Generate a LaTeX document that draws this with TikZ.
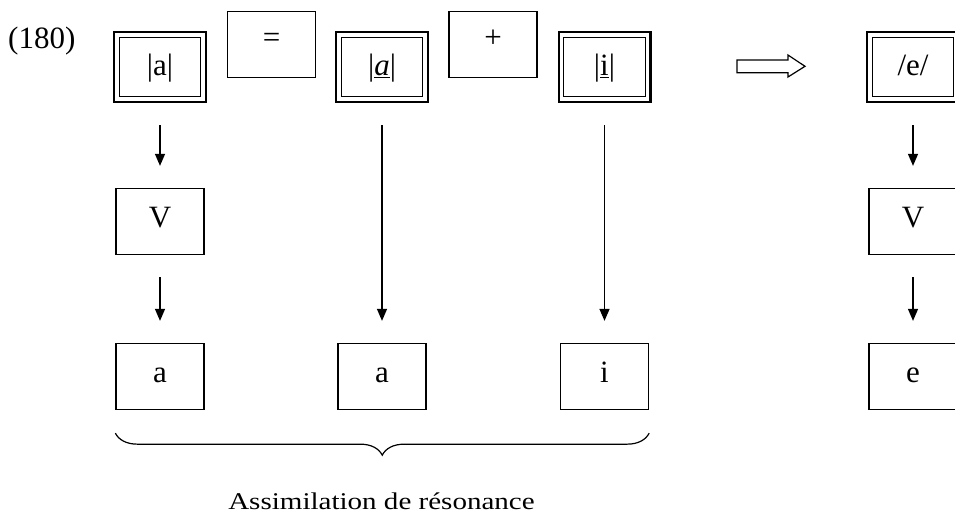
\documentclass[tikz,border=0pt]{standalone}
\usepackage{fontspec}
\setmainfont{Liberation Serif}
\usetikzlibrary{arrows.meta,decorations.pathreplacing,calc}
\newcommand{\myuline}[1]{\setbox0\hbox{#1}\rlap{\rule[-2.8pt]{\wd0}{1.1pt}}\box0}
\begin{document}
\begin{tikzpicture}[x=1pt,y=1pt, font=\fontsize{31}{36}\selectfont,
  dbox/.style={draw, line width=2.4pt, minimum width=91.6pt, minimum height=69.6pt, inner sep=0pt,
    text height=22pt, text depth=6pt,
    path picture={\draw[line width=1.2pt] ([shift={(5pt,-5pt)}]path picture bounding box.north west) rectangle ([shift={(-5pt,5pt)}]path picture bounding box.south east);}},
  sbox/.style={draw, line width=1.3pt, minimum width=88pt, minimum height=66pt, inner sep=0pt},
  opbox/.style={sbox, text height=10pt, text depth=5pt},
  vbox/.style={sbox, text height=20pt, text depth=9pt},
  lbox/.style={sbox, text height=20pt, text depth=8pt},
  arr/.style={line width=1.3pt, -{Triangle[length=12pt,width=10pt]}, shorten <=22pt, shorten >=22pt}]
\useasboundingbox (0,0) rectangle (955,-515);
\clip (0,0) rectangle (955,-515);

\node[anchor=base west, inner sep=0pt] (num) at (8,-48) {(180)};

\node[dbox] (A1) at (160,-67) {|a|};
\node[opbox] (eq) at (271.5,-44.5) {=};
\node[dbox] (A2) at (382,-67) {|\myuline{\textit{a}}|};
\node[opbox] (plus) at (493,-44.5) {+};
\node[dbox] (A3) at (604.5,-67) {|\myuline{i}|};
\node[dbox] (E1) at (913,-67) {/e/};

\node[vbox] (V1) at (160,-221.5) {V};
\node[vbox] (V2) at (913,-221.5) {V};

\node[lbox] (a1) at (160,-376.5) {a};
\node[lbox] (a2) at (382,-376.5) {a};
\node[lbox] (i1) at (604.5,-376.5) {i};
\node[lbox] (e1) at (913,-376.5) {e};

\draw[arr] (A1) -- (V1);
\draw[arr] (V1) -- (a1);
\draw[arr] (A2) -- (a2);
\draw[arr] (A3) -- (i1);
\draw[arr] (E1) -- (V2);
\draw[arr] (V2) -- (e1);

\draw[line width=1.2pt, line join=miter] (737,-60) -- (788,-60) -- (788,-55) -- (805,-66.3) -- (788,-77) -- (788,-72.7) -- (737,-72.7) -- cycle;

\draw[line width=1.2pt, decorate, decoration={brace, amplitude=22pt}]
  ($(i1.south east)+(0,-23)$) -- ($(a1.south west)+(0,-23)$);

\node[anchor=base] (lab) at (381.5,-509) {\scalebox{1.21}[1]{\fontsize{24}{28}\selectfont Assimilation de résonance}};
\end{tikzpicture}
\end{document}
